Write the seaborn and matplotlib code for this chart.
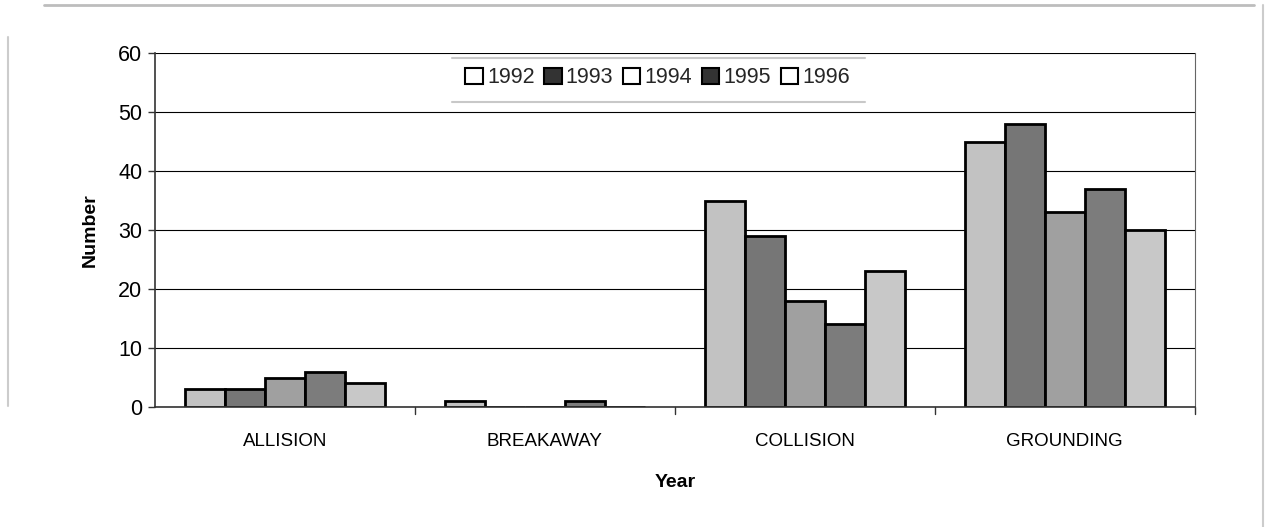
import pandas as pd
import matplotlib.pyplot as plt
import seaborn as sns
from matplotlib.patches import Patch
from matplotlib.lines import Line2D

sns.set_theme(style="white")
plt.rcParams['font.family'] = ['Liberation Sans', 'DejaVu Sans']

categories = ['ALLISION', 'BREAKAWAY', 'COLLISION', 'GROUNDING']
years = ['1992', '1993', '1994', '1995', '1996']
counts = {
    '1992': [3, 1, 35, 45],
    '1993': [3, 0, 29, 48],
    '1994': [5, 0, 18, 33],
    '1995': [6, 1, 14, 37],
    '1996': [4, 0, 23, 30],
}
bar_colors = ['#c2c2c2', '#767676', '#a0a0a0', '#7c7c7c', '#c8c8c8']
legend_fill = ['white', '#333333', 'white', '#333333', 'white']

rows = []
for y in years:
    for c, v in zip(categories, counts[y]):
        rows.append({'Type': c, 'Year': y, 'Number': v})
df = pd.DataFrame(rows)

fig = plt.figure(figsize=(12.67, 5.27), dpi=100)
ax = fig.add_axes([0.1223, 0.2277, 0.8207, 0.6717])

sns.barplot(data=df, x='Type', y='Number', hue='Year', order=categories,
            hue_order=years, palette=bar_colors, width=0.77, saturation=1,
            edgecolor='black', linewidth=2, errorbar=None, legend=False, ax=ax)

ax.set_ylim(0, 60)
ax.set_xlim(-0.5, 3.5)
ax.set_yticks(range(0, 61, 10))
ax.yaxis.grid(True, color='black', linewidth=0.8)
ax.set_axisbelow(True)
for s in ax.spines.values():
    s.set_color('#333333')
    s.set_linewidth(1.2)
ax.spines['top'].set_visible(False)
ax.spines['right'].set_color('#666666')
ax.spines['right'].set_linewidth(0.8)

ax.tick_params(axis='y', left=True, length=5, width=1, color='#333333',
               labelsize=15.5, pad=4, labelcolor='black')
ax.tick_params(axis='x', bottom=False, labelsize=13.5, pad=13, labelcolor='black')
# tick marks between categories
for xb in [0.5, 1.5, 2.5, 3.5]:
    ax.plot([xb, xb], [0, -1.2], color='#333333', lw=1, clip_on=False)

ax.set_xlabel('Year', fontsize=14, fontweight='bold', labelpad=17, color='black')
ax.set_ylabel('Number', fontsize=14, fontweight='bold', labelpad=14, color='black')

handles = [Patch(facecolor=f, edgecolor='black', linewidth=1.5) for f in legend_fill]
fig.legend(handles, years, loc='center', bbox_to_anchor=(0.519, 0.852), ncol=5,
           frameon=False, fontsize=15.5, handlelength=0.8, handleheight=0.8,
           handletextpad=0.2, columnspacing=0.45)

# legend separators and outer frame
fig.add_artist(Line2D([0.357, 0.683], [0.89, 0.89], color='#c8c8c8', lw=1.5))
fig.add_artist(Line2D([0.357, 0.683], [0.806, 0.806], color='#c8c8c8', lw=1.5))
fig.add_artist(Line2D([0.035, 0.99], [0.99, 0.99], color='#bdbdbd', lw=2))
fig.add_artist(Line2D([0.006, 0.006], [0.23, 0.93], color='#cccccc', lw=1.5))
fig.add_artist(Line2D([0.997, 0.997], [0.0, 0.99], color='#cccccc', lw=1.5))

fig.savefig('out.png', dpi=100)
